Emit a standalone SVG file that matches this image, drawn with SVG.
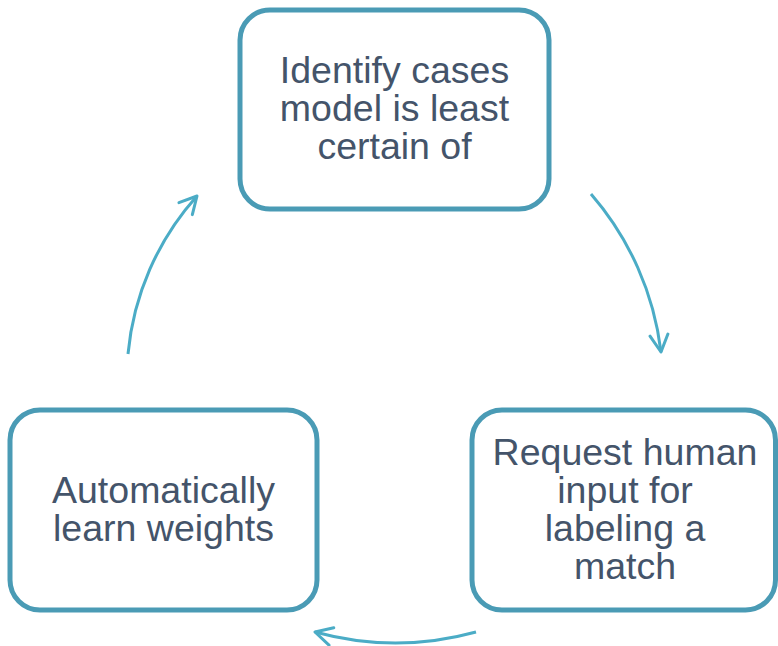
<svg xmlns="http://www.w3.org/2000/svg" width="778" height="646" viewBox="0 0 778 646">
<style>
.box{fill:#ffffff;stroke:#4a9bb5;stroke-width:5}
.lbl{font-family:"Liberation Sans",Arial,sans-serif;font-size:37.5px;fill:#44546a;text-anchor:middle}
.arr{fill:none;stroke:#4bacc6;stroke-width:3;marker-end:url(#ah)}
</style>
<defs>
<marker id="ah" viewBox="0 0 22 22" refX="19" refY="11" markerWidth="22" markerHeight="22" markerUnits="userSpaceOnUse" orient="auto">
<path d="M2,2 L19,11 L2,20" fill="none" stroke="#4bacc6" stroke-width="3" stroke-linecap="round" stroke-linejoin="round"/>
</marker>
</defs>
<rect width="778" height="646" fill="#ffffff"/>
<g id="connectors">
<path class="arr" d="M591,194 A295,295 0 0,1 661,352"/>
<path class="arr" d="M476,632 A304,304 0 0,1 315,632"/>
<path class="arr" d="M128,354 A274,274 0 0,1 197,196"/>
</g>
<g id="node-identify">
<rect class="box" x="240" y="10" width="309" height="199" rx="30"/>
<text class="lbl" x="394.5" y="83">Identify cases</text>
<text class="lbl" x="394.5" y="121">model is least</text>
<text class="lbl" x="394.5" y="159">certain of</text>
</g>
<g id="node-request">
<rect class="box" x="472" y="410" width="303.5" height="200" rx="30"/>
<text class="lbl" x="625" y="465">Request human</text>
<text class="lbl" x="625" y="503">input for</text>
<text class="lbl" x="625" y="541">labeling a</text>
<text class="lbl" x="625" y="579">match</text>
</g>
<g id="node-learn">
<rect class="box" x="10" y="410" width="307" height="200" rx="30"/>
<text class="lbl" x="163.5" y="503">Automatically</text>
<text class="lbl" x="163.5" y="541">learn weights</text>
</g>
</svg>
